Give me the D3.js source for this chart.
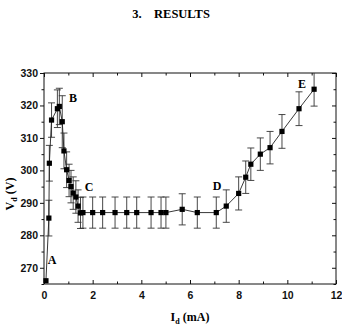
<!DOCTYPE html>
<html><head><meta charset="utf-8">
<script src="https://cdn.jsdelivr.net/npm/d3@7"></script>
<style>body{margin:0;background:#fff}svg{display:block}</style>
</head><body>
<svg id="c" width="342" height="328"></svg>
<script>
const currentMA = [0.08,0.20,0.22,0.31,0.55,0.63,0.75,0.82,0.93,1.03,1.11,1.20,1.31,1.40,1.50,1.60,2.00,2.41,2.92,3.40,3.81,4.40,4.81,5.01,5.68,6.30,7.08,7.49,8.00,8.29,8.50,8.89,9.29,9.78,10.48,11.10];
const voltageV  = [266,285.3,302.2,315.5,319.0,319.7,315.0,306.0,300.2,296.9,295.0,293.0,291.8,289.0,286.9,287,287,287,287,287,287,287,287,287,288,287,287,289,292.9,297.9,301.9,305,307,312,319,325];
const errorV    = [0,5.5,5.5,5.3,5.8,5.6,8,5.5,5.5,5,5,5,5,5,4.8,4.8,4.8,4.8,4.8,4.8,4.8,4.8,4.8,4.8,4.8,4.8,4.8,5,5.1,5,5,5,5,5.2,5.2,5.2];
const xTicks = [0,2,4,6,8,10,12];
const xMinor = [1,3,5,7,9,11];
const yTicks = [270,280,290,300,310,320,330];
const yMinor = [265,275,285,295,305,315,325];
const pointLabels = [{t:"A",x:0.33,y:272.5},{t:"B",x:1.19,y:322.3},{t:"C",x:1.85,y:295},{t:"D",x:7.11,y:295.2},{t:"E",x:10.6,y:326.6}];

const svg = d3.select("#c");
const L=44,R=336,T=73,B=284;
const x = d3.scaleLinear().domain([0,12]).range([L,R]);
const y = d3.scaleLinear().domain([265,330]).range([B,T]);
const serif = "'Liberation Serif','Times New Roman',serif";
const sans = "'Liberation Sans',Arial,sans-serif";

svg.append("text").attr("x",171).attr("y",18).attr("text-anchor","middle")
  .style("font-family",serif).style("font-weight","bold").style("font-size","12.5px")
  .attr("xml:space","preserve").text("3.    RESULTS");

const g = svg.append("g");
g.append("rect").attr("x",L).attr("y",T).attr("width",R-L).attr("height",B-T)
  .attr("fill","none").attr("stroke","#111").attr("stroke-width",1);

const xb = d3.axisBottom(x).tickValues(xTicks).tickSize(-4).tickPadding(8).tickFormat(d3.format("d"));
g.append("g").attr("transform",`translate(0,${B})`).call(xb);
g.append("g").attr("transform",`translate(0,${B})`).call(d3.axisBottom(x).tickValues(xMinor).tickSize(-2.5).tickFormat(""));
g.append("g").attr("transform",`translate(0,${T})`).call(d3.axisTop(x).tickValues(xTicks).tickSize(-4).tickFormat(""));
g.append("g").attr("transform",`translate(0,${T})`).call(d3.axisTop(x).tickValues(xMinor).tickSize(-2.5).tickFormat(""));
g.append("g").attr("transform",`translate(${L},0)`).call(d3.axisLeft(y).tickValues(yTicks).tickSize(4).tickPadding(2).tickFormat(d3.format("d")));
g.append("g").attr("transform",`translate(${L},0)`).call(d3.axisLeft(y).tickValues(yMinor).tickSize(2.5).tickFormat(""));
g.append("g").attr("transform",`translate(${R},0)`).call(d3.axisRight(y).tickValues(yTicks).tickSize(-4).tickFormat(""));
g.append("g").attr("transform",`translate(${R},0)`).call(d3.axisRight(y).tickValues(yMinor).tickSize(-2.5).tickFormat(""));

g.selectAll(".domain").remove();
g.selectAll(".tick line").attr("stroke","#111");
g.selectAll(".tick text").style("font-family",sans).style("font-weight","bold").style("font-size","10.5px").attr("fill","#111");

const data = currentMA.map((c,i)=>({x:c,y:voltageV[i],e:errorV[i]}));
const eb = g.append("g").attr("stroke","#333").attr("stroke-width",0.9);
data.filter(d=>d.e>0).forEach(d=>{
  const top = Math.max(y(d.y+d.e), T), bot = y(d.y-d.e);
  eb.append("line").attr("x1",x(d.x)).attr("x2",x(d.x)).attr("y1",top).attr("y2",bot);
  if (y(d.y+d.e) >= T) eb.append("line").attr("x1",x(d.x)-3.5).attr("x2",x(d.x)+3.5).attr("y1",top).attr("y2",top);
  eb.append("line").attr("x1",x(d.x)-3.5).attr("x2",x(d.x)+3.5).attr("y1",bot).attr("y2",bot);
});

g.append("path").datum(data).attr("fill","none").attr("stroke","#222").attr("stroke-width",0.9)
  .attr("d",d3.line().x(d=>x(d.x)).y(d=>y(d.y)));

g.selectAll("rect.m").data(data).enter().append("rect").attr("class","m")
  .attr("x",d=>x(d.x)-2.6).attr("y",d=>y(d.y)-2.6).attr("width",5.2).attr("height",5.2).attr("fill","#000");

g.selectAll("text.pl").data(pointLabels).enter().append("text").attr("class","pl")
  .attr("x",d=>x(d.x)).attr("y",d=>y(d.y)).attr("text-anchor","middle").attr("dy","0.35em")
  .style("font-family",serif).style("font-weight","bold").style("font-size","12px").text(d=>d.t);

const xt = svg.append("text").attr("x",190).attr("y",321).attr("text-anchor","middle")
  .style("font-family",serif).style("font-weight","bold").style("font-size","12px");
xt.append("tspan").text("I");
xt.append("tspan").attr("dy",3).style("font-size","8px").text("d");
xt.append("tspan").attr("dy",-3).text(" (mA)");

const yt = svg.append("text").attr("transform","translate(14,194) rotate(-90)").attr("text-anchor","middle")
  .style("font-family",serif).style("font-weight","bold").style("font-size","12px");
yt.append("tspan").text("V");
yt.append("tspan").attr("dy",3).style("font-size","8px").text("d");
yt.append("tspan").attr("dy",-3).text(" (V)");
</script>
</body></html>
